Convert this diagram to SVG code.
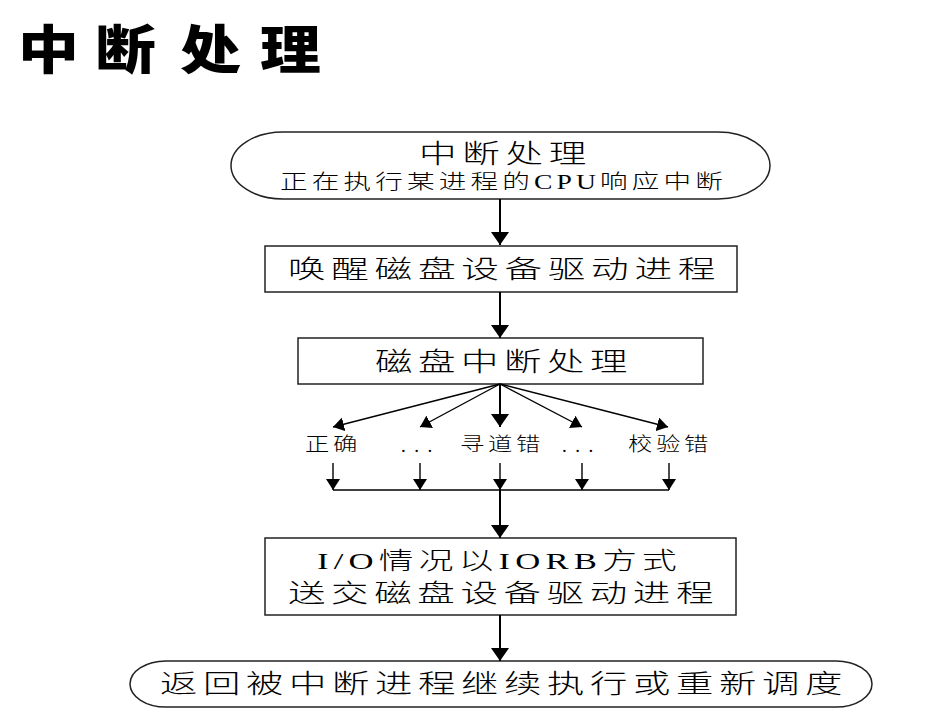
<svg xmlns="http://www.w3.org/2000/svg" width="925" height="717" viewBox="0 0 925 717">
<defs>
<style>
.t{font-family:"Liberation Serif","Noto Sans CJK SC",serif;fill:#000;font-weight:300;letter-spacing:0.15em}
.shape{fill:#fff;stroke:#222;stroke-width:1.5}
.ln{fill:none;stroke:#000;stroke-width:2}
.fn{fill:none;stroke:#000;stroke-width:1.4}
</style>
<marker id="ah" markerUnits="userSpaceOnUse" markerWidth="13" markerHeight="18" viewBox="0 0 13 18" refX="13" refY="9" orient="auto">
<path d="M0,0 L13,9 L0,18 Z" fill="#000"/>
</marker>
<marker id="ahs" markerUnits="userSpaceOnUse" markerWidth="11" markerHeight="14" viewBox="0 0 11 14" refX="11" refY="7" orient="auto">
<path d="M0,0 L11,7 L0,14 Z" fill="#000"/>
</marker>
</defs>
<rect width="925" height="717" fill="#fff"/>
<g id="title">
<text transform="scale(1.17 1)" x="15.4 81.2 153.8 222.2" y="69" font-family="'Noto Sans CJK SC',sans-serif" font-weight="900" font-size="52" fill="#000">中断处理</text>
</g>
<g id="start">
<rect class="shape" x="231" y="132" width="539" height="67" rx="52" ry="33.5"/>
<text class="t" x="419" y="163" font-size="26" textLength="173" lengthAdjust="spacingAndGlyphs">中断处理</text>
<text class="t" x="280" y="189" font-size="20" textLength="447" lengthAdjust="spacingAndGlyphs">正在执行某进程的CPU响应中断</text>
</g>
<g id="wake">
<rect class="shape" x="265" y="246" width="472" height="46"/>
<text class="t" x="288" y="278" font-size="25" textLength="433" lengthAdjust="spacingAndGlyphs">唤醒磁盘设备驱动进程</text>
</g>
<g id="diskint">
<rect class="shape" x="298" y="338" width="405" height="46"/>
<text class="t" x="375" y="371" font-size="26" textLength="258" lengthAdjust="spacingAndGlyphs">磁盘中断处理</text>
</g>
<g id="labels">
<text class="t" x="305" y="451" font-size="19" textLength="56" lengthAdjust="spacingAndGlyphs">正确</text>
<text class="t" x="401" y="452" font-size="19" textLength="34" lengthAdjust="spacing">. . .</text>
<text class="t" x="460" y="451" font-size="19" textLength="84" lengthAdjust="spacingAndGlyphs">寻道错</text>
<text class="t" x="562" y="452" font-size="19" textLength="34" lengthAdjust="spacing">. . .</text>
<text class="t" x="628" y="451" font-size="19" textLength="84" lengthAdjust="spacingAndGlyphs">校验错</text>
</g>
<g id="iorb">
<rect class="shape" x="265" y="538" width="471" height="77"/>
<text class="t" x="317" y="569" font-size="24" textLength="365" lengthAdjust="spacingAndGlyphs">I/O情况以IORB方式</text>
<text class="t" x="288" y="602" font-size="25" textLength="431" lengthAdjust="spacingAndGlyphs">送交磁盘设备驱动进程</text>
</g>
<g id="end">
<rect class="shape" x="130" y="661" width="742" height="46" rx="36" ry="23"/>
<text class="t" x="160" y="693" font-size="26" textLength="688" lengthAdjust="spacingAndGlyphs">返回被中断进程继续执行或重新调度</text>
</g>
<g id="connectors">
<path class="ln" d="M500,199 L500,245" marker-end="url(#ah)"/>
<path class="ln" d="M500,292 L500,338" marker-end="url(#ah)"/>
<path class="fn" d="M500,384 L333,427" marker-end="url(#ahs)"/>
<path class="fn" d="M500,384 L420,427" marker-end="url(#ahs)"/>
<path class="ln" d="M500,384 L500,427" marker-end="url(#ah)"/>
<path class="fn" d="M500,384 L582,427" marker-end="url(#ahs)"/>
<path class="fn" d="M500,384 L668,427" marker-end="url(#ahs)"/>
<path class="fn" d="M333,463 L333,490" marker-end="url(#ahs)"/>
<path class="fn" d="M420,463 L420,490" marker-end="url(#ahs)"/>
<path class="fn" d="M500,463 L500,490" marker-end="url(#ahs)"/>
<path class="fn" d="M582,463 L582,490" marker-end="url(#ahs)"/>
<path class="fn" d="M669,463 L669,490" marker-end="url(#ahs)"/>
<path class="fn" d="M333,490 L669,490"/>
<path class="ln" d="M500,490 L500,538" marker-end="url(#ah)"/>
<path class="ln" d="M500,615 L500,661" marker-end="url(#ah)"/>
</g>
</svg>
